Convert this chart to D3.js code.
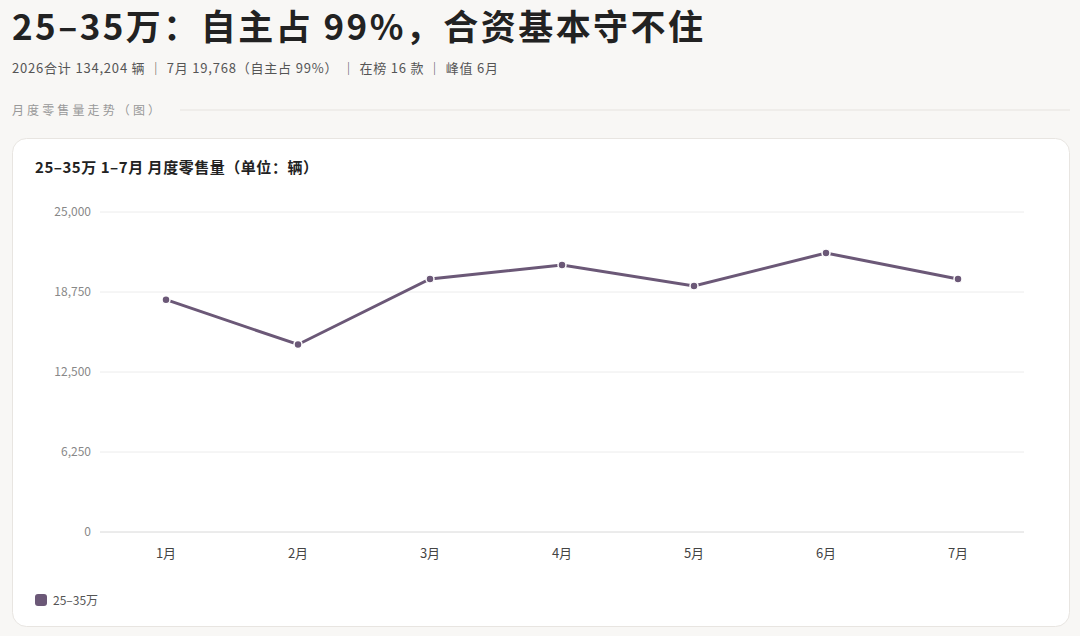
<!DOCTYPE html>
<html><head><meta charset="utf-8">
<script src="https://cdn.jsdelivr.net/npm/d3@7"></script>
<style>
body{margin:0;background:#f8f7f5;font-family:"Noto Sans CJK SC","Noto Sans",sans-serif;}
</style></head><body>
<svg id="c" width="1080" height="636"></svg>
<script>
const months=["1月","2月","3月","4月","5月","6月","7月"];
const sales=[18150,14650,19766,20859,19219,21797,19768];
const yTicks=[0,6250,12500,18750,25000];
const seriesName="25–35万";
const color="#6b5877";

const svg=d3.select("#c");
svg.append("text").attr("x",12).attr("y",40).attr("font-size",35).attr("font-weight",600).attr("fill","#222").attr("textLength",691).text("25–35万：自主占 99%，合资基本守不住");
svg.append("text").attr("x",12).attr("y",73).attr("font-size",13).attr("fill","#555").attr("textLength",486).text("2026合计 134,204 辆  ｜  7月 19,768（自主占 99%）  ｜  在榜 16 款  ｜  峰值 6月");
svg.append("text").attr("x",12).attr("y",115).attr("font-size",12).attr("fill","#999").attr("textLength",148).text("月度零售量走势（图）");
svg.append("line").attr("x1",180).attr("x2",1070).attr("y1",110).attr("y2",110).attr("stroke","#e6e3df");
svg.append("rect").attr("x",12.5).attr("y",138.5).attr("width",1057).attr("height",488).attr("rx",14).attr("fill","#fff").attr("stroke","#e8e5e1");
svg.append("text").attr("x",35).attr("y",173).attr("font-size",15).attr("font-weight",700).attr("fill","#222").attr("textLength",283).text("25–35万 1–7月 月度零售量（单位：辆）");

const x=d3.scalePoint().domain(months).range([166,958]);
const y=d3.scaleLinear().domain([0,25000]).range([532,212]);
const g=svg.append("g");
yTicks.forEach(t=>{
  g.append("line").attr("x1",100).attr("x2",1024).attr("y1",y(t)).attr("y2",y(t)).attr("stroke",t===0?"#d8d8d8":"#ececec");
  g.append("text").attr("x",91).attr("y",y(t)+4).attr("text-anchor","end").attr("font-size",12).attr("fill","#888").text(d3.format(",")(t));
});
months.forEach(m=>g.append("text").attr("x",x(m)).attr("y",558).attr("text-anchor","middle").attr("font-size",13).attr("fill","#444").text(m));
const line=d3.line().x((d,i)=>x(months[i])).y(d=>y(d));
g.append("path").datum(sales).attr("d",line).attr("fill","none").attr("stroke",color).attr("stroke-width",3);
g.selectAll("circle").data(sales).join("circle").attr("cx",(d,i)=>x(months[i])).attr("cy",d=>y(d)).attr("r",4).attr("fill",color).attr("stroke","#fff").attr("stroke-width",1.5);
svg.append("rect").attr("x",35).attr("y",594).attr("width",12).attr("height",12).attr("rx",3).attr("fill",color);
svg.append("text").attr("x",53).attr("y",605).attr("font-size",12).attr("fill","#555").text(seriesName);
</script></body></html>
